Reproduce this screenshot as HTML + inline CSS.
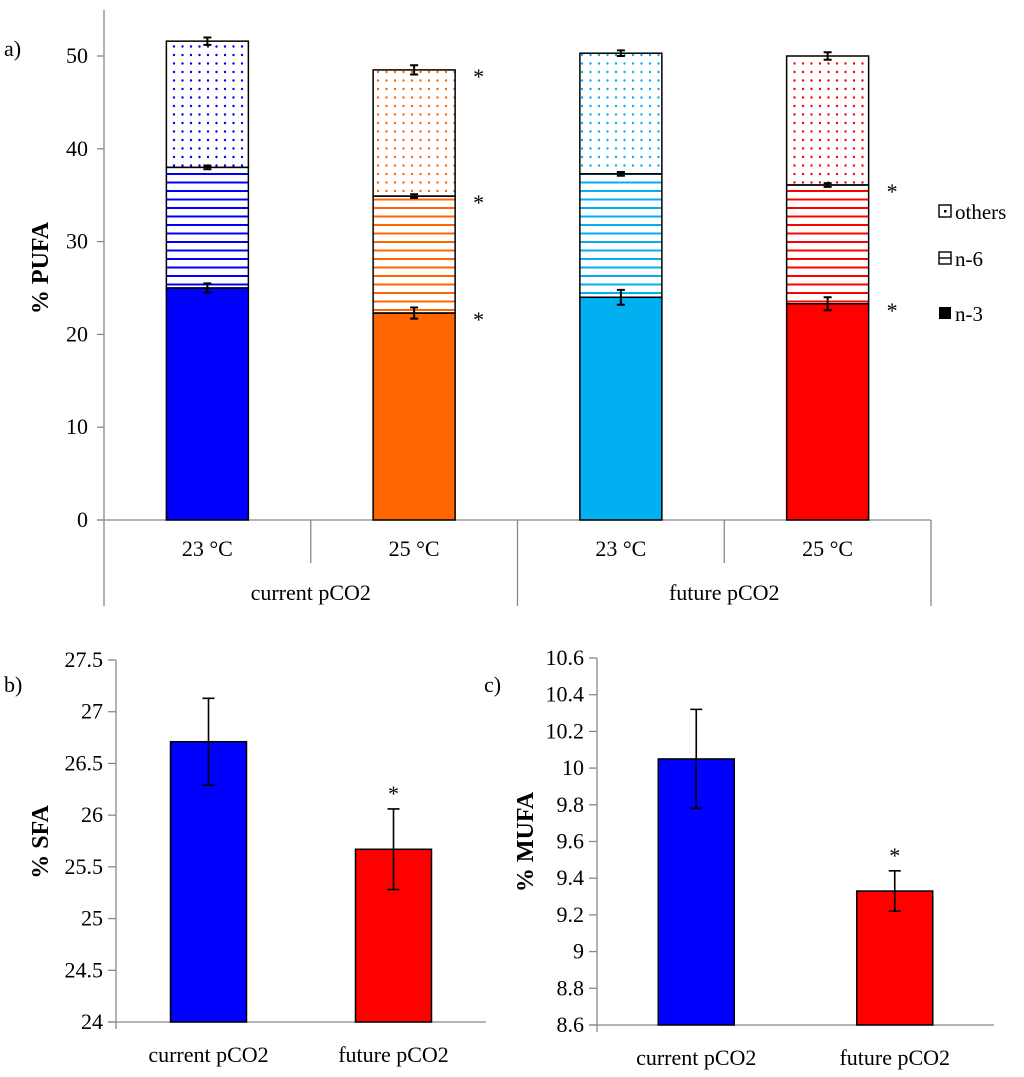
<!DOCTYPE html>
<html><head><meta charset="utf-8"><style>
html,body{margin:0;padding:0;background:#fff;}
svg{display:block;font-family:"Liberation Serif",serif;}
</style></head><body>
<svg id="s" width="1024" height="1077" viewBox="0 0 1024 1077">
<defs>
<pattern id="dots-blue" width="8.5" height="8.5" patternUnits="userSpaceOnUse"><circle cx="4" cy="4" r="1.2" fill="#0000ff"/></pattern>
<pattern id="dots-orange" width="8.5" height="8.5" patternUnits="userSpaceOnUse"><circle cx="4" cy="4" r="1.2" fill="#ff6600"/></pattern>
<pattern id="dots-cyan" width="8.5" height="8.5" patternUnits="userSpaceOnUse"><circle cx="4" cy="4" r="1.2" fill="#00b0f0"/></pattern>
<pattern id="dots-red" width="8.5" height="8.5" patternUnits="userSpaceOnUse"><circle cx="4" cy="4" r="1.2" fill="#ff0000"/></pattern>
<pattern id="hl-blue" width="8" height="8.5" patternUnits="userSpaceOnUse"><rect x="0" y="3" width="8" height="2" fill="#0000ff"/></pattern>
<pattern id="hl-orange" width="8" height="8.5" patternUnits="userSpaceOnUse"><rect x="0" y="3" width="8" height="2" fill="#ff6600"/></pattern>
<pattern id="hl-cyan" width="8" height="8.5" patternUnits="userSpaceOnUse"><rect x="0" y="3" width="8" height="2" fill="#00b0f0"/></pattern>
<pattern id="hl-red" width="8" height="8.5" patternUnits="userSpaceOnUse"><rect x="0" y="3" width="8" height="2" fill="#ff0000"/></pattern>
</defs>
<text x="4" y="56" font-size="22">a)</text>
<text x="4" y="692" font-size="22">b)</text>
<text x="484" y="692" font-size="22">c)</text>
<text transform="translate(48,268) rotate(-90)" text-anchor="middle" font-size="24" font-weight="bold">% PUFA</text>
<text transform="translate(48,842) rotate(-90)" text-anchor="middle" font-size="24" font-weight="bold">% SFA</text>
<text transform="translate(533,842) rotate(-90)" text-anchor="middle" font-size="24" font-weight="bold">% MUFA</text>
<g>
<g><rect x="939" y="205" width="12" height="12" fill="#fff" stroke="#000" stroke-width="1.4"/><rect x="944" y="210" width="2.5" height="2.5" fill="#000"/><text x="955" y="219" font-size="21">others</text></g>
<g><rect x="939" y="252" width="12" height="12" fill="#fff" stroke="#000" stroke-width="1.4"/><line x1="939" y1="258" x2="951" y2="258" stroke="#000" stroke-width="1.4"/><text x="955" y="266" font-size="21">n-6</text></g>
<g><rect x="939" y="307" width="12" height="12" fill="#000"/><text x="955" y="321" font-size="21">n-3</text></g>
</g>
<g id="ga"></g>
<g id="gb"></g>
<g id="gc"></g>
</svg>
<script>
const NS='http://www.w3.org/2000/svg';
// Chart a data
const aTemps=['23 °C','25 °C','23 °C','25 °C'];
const aGroups=['current pCO2','future pCO2'];
const aN3=[25.0,22.3,24.0,23.3];
const aN6=[13.0,12.6,13.3,12.8];
const aOthers=[13.6,13.6,13.0,13.9];
const aErrN3=[0.5,0.6,0.8,0.7];
const aErrN6=[0.2,0.2,0.2,0.2];
const aErrOthers=[0.4,0.5,0.3,0.4];
const aStarN3=[false,true,false,true];
const aStarN6=[false,true,false,true];
const aStarOthers=[false,true,false,false];
const aTicks=[0,10,20,30,40,50];
// Chart b data
const bCats=['current pCO2','future pCO2'];
const bVals=[26.71,25.67];
const bErr=[0.42,0.39];
const bStar=[false,true];
const bTicks=['24','24.5','25','25.5','26','26.5','27','27.5'];
// Chart c data
const cCats=['current pCO2','future pCO2'];
const cVals=[10.05,9.33];
const cErr=[0.27,0.11];
const cStar=[false,true];
const cTicks=['8.6','8.8','9','9.2','9.4','9.6','9.8','10','10.2','10.4','10.6'];

function mk(p,tag,at,txt){const e=document.createElementNS(NS,tag);for(const k in at)e.setAttribute(k,at[k]);if(txt!=null)e.textContent=txt;p.appendChild(e);return e;}
const fills=['blue','orange','cyan','red'];
const solid=['#0000ff','#ff6600','#00b0f0','#ff0000'];
const GREY='#898989';
const FS=22;

function errBar(g,x,yTop,yBot,cap,w){
  const e=mk(g,'path',{d:`M${x-cap},${yTop}H${x+cap}M${x},${yTop}V${yBot}M${x-cap},${yBot}H${x+cap}`,stroke:'#000','stroke-width':w,fill:'none'});
  
  
}

// ---- Chart a
(function(){
  const g=document.getElementById('ga');
  const x0=104,x1=931,y0=520,yTop=10,maxV=50,y50=56;
  const ys=v=>y0-(v/maxV)*(y0-y50);
  const catW=(x1-x0)/aTemps.length;
  const xc=i=>x0+catW*(i+0.5);
  mk(g,'line',{x1:x0,y1:yTop,x2:x0,y2:606,stroke:GREY,'stroke-width':1.3});
  mk(g,'line',{x1:97,y1:y0,x2:x1,y2:y0,stroke:GREY,'stroke-width':1.3});
  aTicks.forEach(t=>{
    mk(g,'line',{x1:97,y1:ys(t),x2:x0,y2:ys(t),stroke:GREY,'stroke-width':1.3});
    const l=mk(g,'text',{x:88,y:ys(t)+7,'text-anchor':'end','font-size':FS},String(t));
    
    
  });
  for(let i=1;i<aTemps.length;i++){
    const xx=x0+catW*i;
    mk(g,'line',{x1:xx,y1:y0,x2:xx,y2:(i%2==0)?606:563,stroke:GREY,'stroke-width':1.3});
  }
  mk(g,'line',{x1:x1,y1:y0,x2:x1,y2:606,stroke:GREY,'stroke-width':1.3});
  aTemps.forEach((t,i)=>{
    const l=mk(g,'text',{x:xc(i),y:556,'text-anchor':'middle','font-size':FS},t);
    
    
  });
  aGroups.forEach((t,i)=>{
    const l=mk(g,'text',{x:x0+catW*(2*i+1),y:600,'text-anchor':'middle','font-size':FS},t);
    
    
  });
  const bw=82;
  aTemps.forEach((t,i)=>{
    const cx=xc(i),bx=cx-bw/2;
    const v1=aN3[i],v2=v1+aN6[i],v3=v2+aOthers[i];
    const r1=mk(g,'rect',{x:bx,y:ys(v1),width:bw,height:y0-ys(v1),fill:solid[i],stroke:'#000','stroke-width':1.5});
    
    
    const r2=mk(g,'rect',{x:bx,y:ys(v2),width:bw,height:ys(v1)-ys(v2),fill:'url(#hl-'+fills[i]+')',stroke:'#000','stroke-width':1.5});
    
    
    const r3=mk(g,'rect',{x:bx,y:ys(v3),width:bw,height:ys(v2)-ys(v3),fill:'url(#dots-'+fills[i]+')',stroke:'#000','stroke-width':1.5});
    
    
    errBar(g,cx,ys(v1+aErrN3[i]),ys(v1-aErrN3[i]),4,2);
    errBar(g,cx,ys(v2+aErrN6[i]),ys(v2-aErrN6[i]),4,2);
    errBar(g,cx,ys(v3+aErrOthers[i]),ys(v3-aErrOthers[i]),4,2);
    [[aStarN3,v1],[aStarN6,v2],[aStarOthers,v3]].forEach(([arr,v])=>{
      if(arr[i]){const s=mk(g,'text',{x:cx+bw/2+18,y:ys(v)+14,'text-anchor':'start','font-size':FS},'*');
        
        }
    });
  });
})();

function simple(id,cats,vals,errs,stars,ticks,ax,x1,yBot,yTopTick,lo,hi,bw){
  const g=document.getElementById(id);
  const ys=v=>yBot-(v-lo)/(hi-lo)*(yBot-yTopTick);
  mk(g,'line',{x1:ax,y1:yTopTick,x2:ax,y2:yBot+7,stroke:GREY,'stroke-width':1.3});
  mk(g,'line',{x1:ax-8,y1:yBot,x2:x1,y2:yBot,stroke:GREY,'stroke-width':1.3});
  ticks.forEach(t=>{
    const y=ys(parseFloat(t));
    mk(g,'line',{x1:ax-8,y1:y,x2:ax,y2:y,stroke:GREY,'stroke-width':1.3});
    const l=mk(g,'text',{x:ax-13,y:y+7,'text-anchor':'end','font-size':FS},t);
    
    
  });
  const cw=(x1-ax)/cats.length;
  cats.forEach((c,i)=>{
    const cx=ax+cw*(i+0.5);
    const r=mk(g,'rect',{x:cx-bw/2,y:ys(vals[i]),width:bw,height:yBot-ys(vals[i]),fill:i==0?'#0000ff':'#ff0000',stroke:'#000','stroke-width':1.5});
    
    
    errBar(g,cx,ys(vals[i]+errs[i]),ys(vals[i]-errs[i]),6,1.6);
    if(stars[i]){const s=mk(g,'text',{x:cx,y:ys(vals[i]+errs[i])-8,'text-anchor':'middle','font-size':FS},'*');
      
      }
    const l=mk(g,'text',{x:cx,y:yBot+40,'text-anchor':'middle','font-size':FS},c);
    
    
  });
}
simple('gb',bCats,bVals,bErr,bStar,bTicks,116,486,1022,660,24,27.5,76);
simple('gc',cCats,cVals,cErr,cStar,cTicks,597,994,1025,658,8.6,10.6,76);
</script>
</body></html>
